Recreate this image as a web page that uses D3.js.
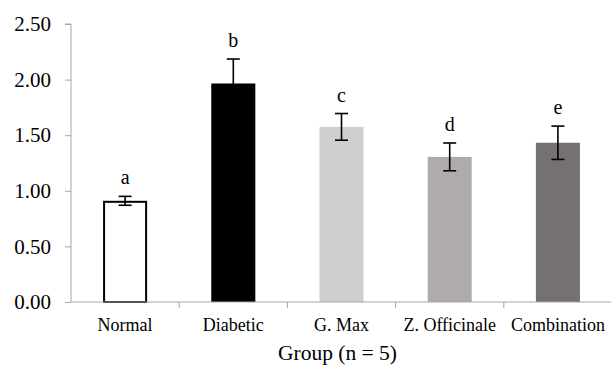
<!DOCTYPE html>
<html><head><meta charset="utf-8">
<script src="https://cdn.jsdelivr.net/npm/d3@7"></script>
<style>body{margin:0;background:#fff}svg{display:block}</style>
</head><body>
<svg id="c" width="611" height="367"></svg>
<script>
const categories = ["Normal","Diabetic","G. Max","Z. Officinale","Combination"];
const values = [0.91, 1.965, 1.575, 1.305, 1.432];
const errors = [0.04, 0.22, 0.12, 0.125, 0.15];
const letters = ["a","b","c","d","e"];
const colors = ["#ffffff","#000000","#d0cece","#afabab","#767171"];
const yTicks = [0, 0.5, 1.0, 1.5, 2.0, 2.5];

const svg = d3.select("#c");
const L = 71, R = 612, T = 24, B = 302;
const x = d3.scaleBand().domain(categories).range([L, R]).padding(0);
const y = d3.scaleLinear().domain([0, 2.5]).range([B, T]);
const bw = x.bandwidth() * 0.407;
const font = "'Liberation Serif','Times New Roman',serif";
const axisColor = "#a6a6a6";

// bars
svg.selectAll("rect.bar").data(categories).join("rect")
  .attr("x", (d,i) => x(d) + x.bandwidth()/2 - bw/2 + (i===0?1:0))
  .attr("y", (d,i) => y(values[i]) + (i===0?1:0))
  .attr("width", (d,i) => bw - (i===0?2:0))
  .attr("height", (d,i) => B - y(values[i]) - (i===0?1:0))
  .attr("fill", (d,i) => colors[i])
  .attr("stroke", (d,i) => i===0 ? "#000" : "none")
  .attr("stroke-width", 2);

// y axis
const ya = svg.append("g").attr("transform", `translate(${L},0)`)
  .call(d3.axisLeft(y).tickValues(yTicks).tickFormat(d3.format(".2f")).tickSize(6).tickPadding(14));
ya.select(".domain").attr("stroke", axisColor).attr("d", `M-6,${T}H0V${B}`);
ya.selectAll(".tick line").attr("stroke", axisColor);
ya.selectAll(".tick text").attr("font-family", font).attr("font-size", 21).attr("fill", "#000");

// x axis
const xa = svg.append("g").attr("transform", `translate(0,${B})`)
  .call(d3.axisBottom(x).tickSize(0).tickPadding(16));
xa.select(".domain").attr("stroke", axisColor).attr("d", `M${L},0H${R}`);
xa.selectAll(".tick text").attr("font-family", font).attr("font-size", 18).attr("fill", "#000");
// boundary ticks
svg.append("g").selectAll("line").data(categories.slice(1)).join("line")
  .attr("x1", d => x(d)).attr("x2", d => x(d))
  .attr("y1", B).attr("y2", B + 6)
  .attr("stroke", axisColor);

// error bars
const eb = svg.append("g").attr("stroke", "#000").attr("stroke-width", 1.6);
categories.forEach((d,i) => {
  const cx = x(d) + x.bandwidth()/2;
  const y1 = y(values[i] + errors[i]), y2 = y(values[i] - errors[i]);
  eb.append("line").attr("x1", cx).attr("x2", cx).attr("y1", y1).attr("y2", y2);
  eb.append("line").attr("x1", cx-6.5).attr("x2", cx+6.5).attr("y1", y1).attr("y2", y1);
  eb.append("line").attr("x1", cx-6.5).attr("x2", cx+6.5).attr("y1", y2).attr("y2", y2);
});

// letters
svg.selectAll("text.lab").data(categories).join("text")
  .attr("x", d => x(d) + x.bandwidth()/2)
  .attr("y", (d,i) => y(values[i] + errors[i]) - 12)
  .attr("text-anchor", "middle")
  .attr("font-family", font).attr("font-size", 20)
  .text((d,i) => letters[i]);

// axis title
svg.append("text").attr("x", (L + R)/2 - 4).attr("y", 360)
  .attr("text-anchor", "middle").attr("font-family", font).attr("font-size", 21.5)
  .text("Group (n = 5)");
</script>
</body></html>
